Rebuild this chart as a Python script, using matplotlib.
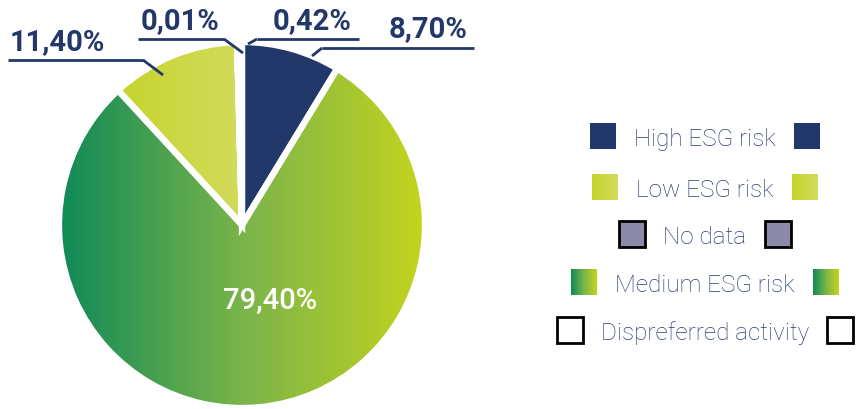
import matplotlib.pyplot as plt
import numpy as np
from matplotlib.patches import Rectangle
from matplotlib.colors import LinearSegmentedColormap

# Data
categories = ['High ESG risk', 'Medium ESG risk', 'Low ESG risk', 'Dispreferred activity', 'No data']
shares = [8.70, 79.40, 11.40, 0.01, 0.42]
share_labels = ['8,70%', '79,40%', '11,40%', '0,01%', '0,42%']
legend_order = ['High ESG risk', 'Low ESG risk', 'No data', 'Medium ESG risk', 'Dispreferred activity']

navy = '#22376a'
text_navy = '#2a3d6c'
medium_cmap = LinearSegmentedColormap.from_list('medium', ['#0f8a58', '#7ab44a', '#c4d41e'])
low_cmap = LinearSegmentedColormap.from_list('low', ['#c4d42a', '#d3db5c'])
solid = {'High ESG risk': navy, 'No data': '#8b8aa8', 'Dispreferred activity': 'white'}
edge = {'No data': 'black', 'Dispreferred activity': 'black'}

plt.rcParams['font.family'] = ['Roboto', 'DejaVu Sans']

W, H = 856, 410
fig = plt.figure(figsize=(W / 100, H / 100), dpi=100)
ax = fig.add_axes([0, 0, 1, 1])


def py(y):
    # pixel row (from top) -> axes y (from bottom)
    return H - y


# pie geometry
cx, cy, r = 242, py(226), 183

wedges, _ = ax.pie(shares, center=(cx, cy), radius=r, startangle=90, counterclock=False,
                   colors=['none'] * len(shares), frame=True,
                   wedgeprops=dict(edgecolor='white', linewidth=4.5))

for w, cat in zip(wedges, categories):
    w.set_zorder(1)
    if cat == 'Medium ESG risk':
        grad = np.linspace(0, 1, 256).reshape(1, -1)
        im = ax.imshow(grad, cmap=medium_cmap, extent=[cx - r, cx + r, cy - r, cy + r],
                       aspect='auto', zorder=0.5)
        im.set_clip_path(w)
    elif cat == 'Low ESG risk':
        grad = np.linspace(0, 1, 256).reshape(1, -1)
        im = ax.imshow(grad, cmap=low_cmap, extent=[cx - r * 0.72, cx, cy - r, cy + r],
                       aspect='auto', zorder=0.5)
        im.set_clip_path(w)
    else:
        w.set_facecolor(solid[cat])

# outside labels with leader lines
label_layout = {
    '11,40%': dict(tx=57, ty=42, ux=(8, 143), uy=61, elbow=143, target=(163, 76)),
    '0,01%': dict(tx=180, ty=21, ux=(138, 224), uy=40, elbow=224, target=(243, 54)),
    '0,42%': dict(tx=312, ty=21, ux=(257, 359), uy=40, elbow=257, target=(248, 45)),
    '8,70%': dict(tx=428, ty=29, ux=(322, 474), uy=49, elbow=322, target=(312, 57)),
}
for lab in share_labels:
    if lab not in label_layout:
        continue
    L = label_layout[lab]
    ax.text(L['tx'], py(L['ty']), lab, ha='center', va='center', fontsize=21,
            fontweight='bold', color=navy)
    ax.plot(L['ux'], [py(L['uy'])] * 2, color=navy, lw=2, solid_capstyle='butt')
    ax.plot([L['elbow'], L['target'][0]], [py(L['uy']), py(L['target'][1])], color=navy, lw=2,
            solid_capstyle='butt')

# big inside label
ax.text(270, py(301), share_labels[1], ha='center', va='center', fontsize=21,
        fontweight='medium', color='white')

# legend: label with a swatch on each side
row_y = [137, 188, 235, 283, 331]
legend_x = 705
sq = 26
gap = 18
renderer = fig.canvas.get_renderer()


def draw_swatch(x0, y0, cat):
    if cat in ('Medium ESG risk', 'Low ESG risk'):
        cm = medium_cmap if cat == 'Medium ESG risk' else low_cmap
        grad = np.linspace(0, 1, 64).reshape(1, -1)
        ax.imshow(grad, cmap=cm, extent=[x0, x0 + sq, y0, y0 + sq], aspect='auto', zorder=2)
    else:
        lw = 2 if cat in edge else 0
        ax.add_patch(Rectangle((x0, y0), sq, sq, facecolor=solid[cat],
                               edgecolor=edge.get(cat, 'none'), linewidth=lw, zorder=2))


for cat, y in zip(legend_order, row_y):
    t = ax.text(legend_x, py(y), cat, ha='center', va='center_baseline', fontsize=17.5,
                fontweight='light', color=text_navy)
    half = t.get_window_extent(renderer=renderer).width / 2
    draw_swatch(legend_x - half - gap - sq, py(y) - sq / 2, cat)
    draw_swatch(legend_x + half + gap, py(y) - sq / 2, cat)

ax.set_xlim(0, W)
ax.set_ylim(0, H)
ax.set_aspect('equal')
ax.axis('off')
fig.savefig('out.png', dpi=100)
